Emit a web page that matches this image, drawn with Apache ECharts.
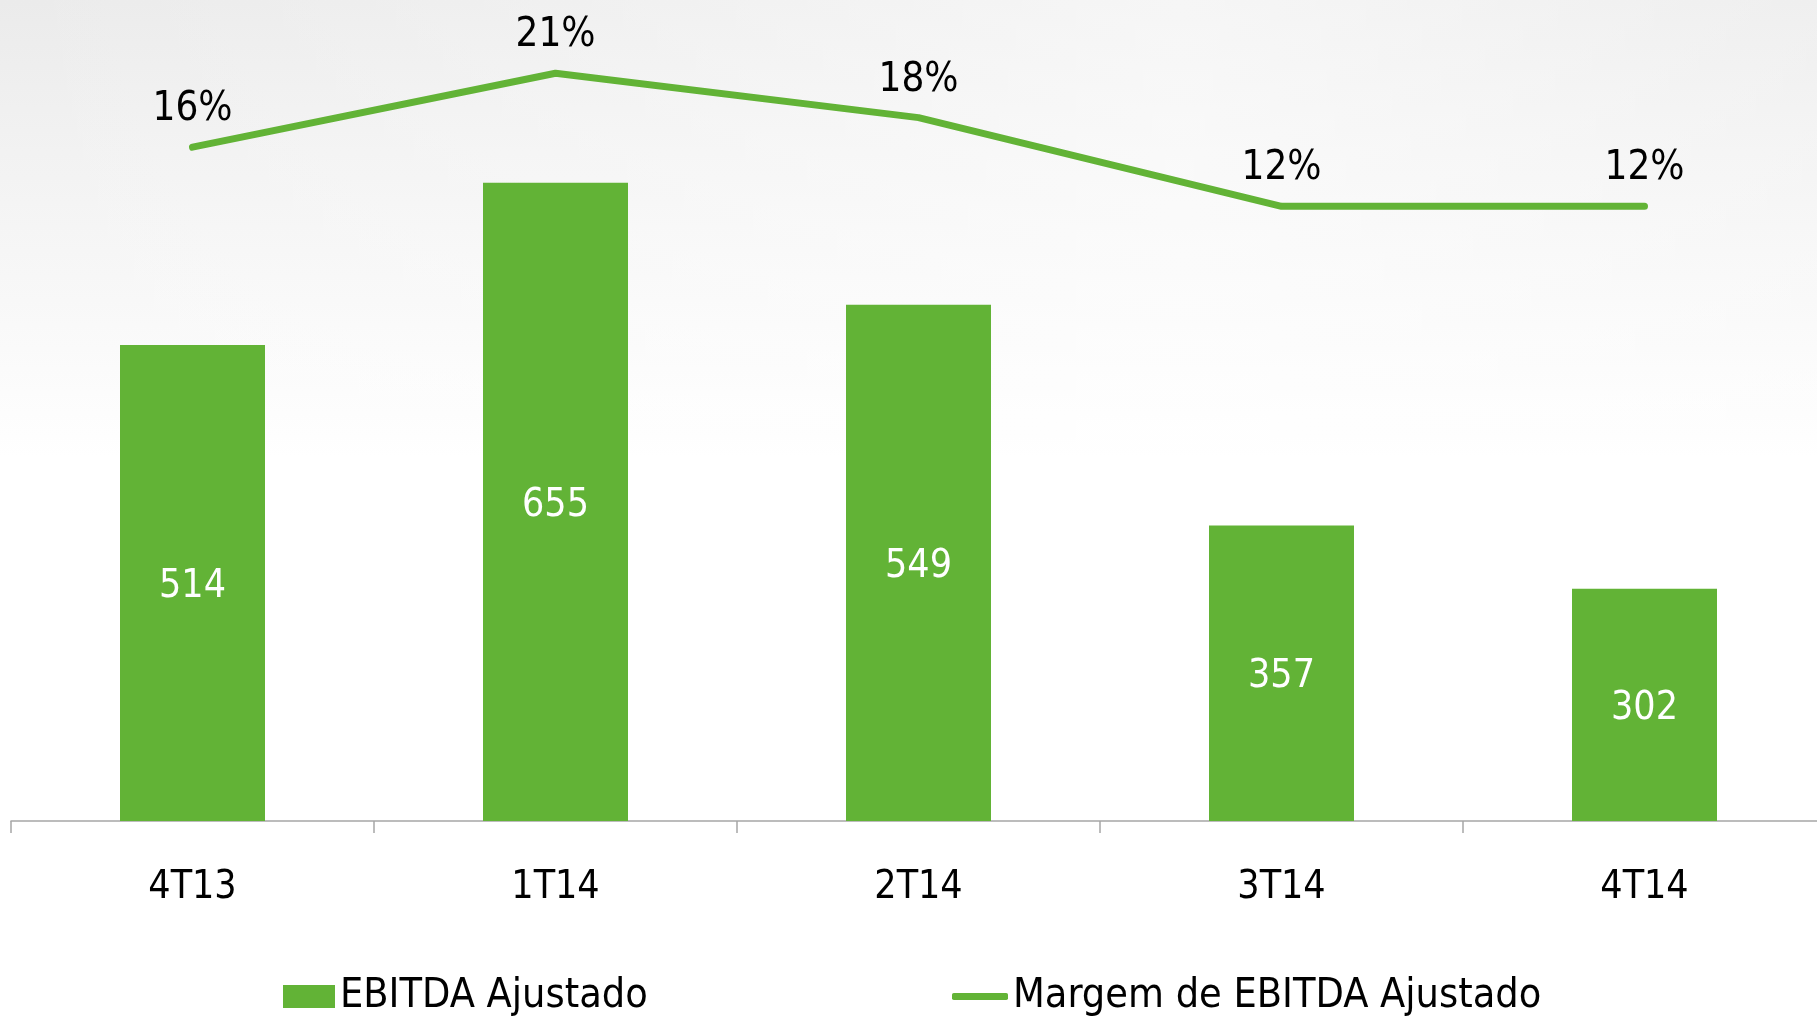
<!DOCTYPE html>
<html>
<head>
<meta charset="utf-8">
<script src="https://cdn.jsdelivr.net/npm/echarts@6/dist/echarts.min.js"></script>
<style>
  html, body { margin: 0; padding: 0; overflow: hidden; }
  body {
    width: 1817px; height: 1017px;
    background:
      linear-gradient(to right, rgba(255,255,255,0) 0%, rgba(255,255,255,0.55) 65%, rgba(255,255,255,0.2) 100%),
      linear-gradient(to bottom, #ebebeb 0%, #f2f2f2 15%, #f9f9f9 32%, #ffffff 45%);
  }
  #chart { width: 1826px; height: 1017px; }
</style>
</head>
<body>
<div id="chart"></div>
<script>
// dados
const categories = ['4T13', '1T14', '2T14', '3T14', '4T14']
const ebitdaAjustado = [514, 655, 549, 357, 302]
const margemEbitda = [16, 21, 18, 12, 12]

const green = '#62b336'
const font = '"DejaVu Sans Condensed", "DejaVu Sans", sans-serif'

const chart = echarts.init(document.getElementById('chart'))

const option = {
  backgroundColor: 'transparent',
  animation: false,
  textStyle: { fontFamily: font },
  grid: { left: 11, right: 0, top: 0, bottom: 196 },
  legend: [
    {
      data: ['EBITDA Ajustado'],
      left: 283, top: 976, padding: 0,
      icon: 'rect', itemWidth: 52, itemHeight: 23,
      textStyle: { fontFamily: font, fontSize: 41, color: '#000' }
    },
    {
      data: ['Margem de EBITDA Ajustado'],
      left: 952, top: 976, padding: 0,
      icon: 'roundRect', itemWidth: 56, itemHeight: 7,
      textStyle: { fontFamily: font, fontSize: 41, color: '#000' }
    }
  ],
  xAxis: {
    type: 'category',
    data: categories,
    axisLine: { onZero: false, lineStyle: { color: '#a6a6a6', width: 1.5 } },
    axisTick: { show: true, length: 12, lineStyle: { color: '#a6a6a6', width: 1.5 } },
    axisLabel: { color: '#000', fontSize: 39, margin: 47, fontFamily: font }
  },
  yAxis: [
    { type: 'value', min: 100, max: 814, show: false, splitLine: { show: false } },
    { type: 'value', min: -29.6, max: 25.96, show: false, splitLine: { show: false } }
  ],
  series: [
    {
      name: 'EBITDA Ajustado',
      type: 'bar',
      data: ebitdaAjustado,
      barWidth: 145,
      itemStyle: { color: green },
      label: {
        show: true, position: 'inside', color: '#fff',
        fontSize: 39, fontFamily: font, offset: [0, 4]
      }
    },
    {
      name: 'Margem de EBITDA Ajustado',
      type: 'line',
      yAxisIndex: 1,
      data: margemEbitda,
      symbol: 'circle',
      symbolSize: 1,
      itemStyle: { color: green },
      lineStyle: { color: green, width: 7, cap: 'round', join: 'round' },
      label: {
        show: true, position: 'top', distance: 17, color: '#000',
        fontSize: 40, fontFamily: font,
        formatter: p => p.value + '%'
      }
    }
  ]
}

chart.setOption(option)
</script>
</body>
</html>
